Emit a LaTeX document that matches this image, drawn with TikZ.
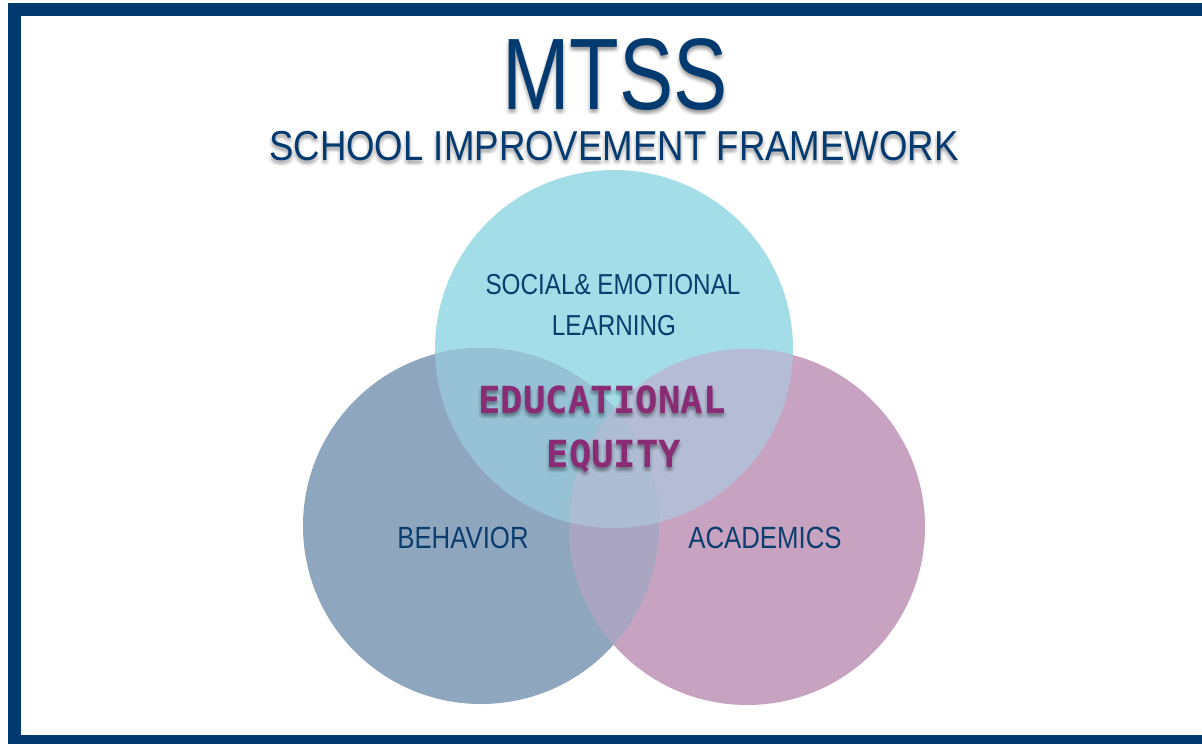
\documentclass[tikz,border=0pt]{standalone}
\usepackage{fontspec}
\newfontfamily\bigfont[FakeStretch=0.80]{Liberation Sans}
\newfontfamily\subfont[FakeStretch=0.875]{Liberation Sans}
\newfontfamily\labelfont[FakeStretch=0.84]{Liberation Sans}
\newfontfamily\monofont{DejaVu Sans Mono}
\definecolor{navy}{HTML}{033A70}
\definecolor{labelnavy}{HTML}{0B3D6E}
\definecolor{plum}{HTML}{8A2C75}
\definecolor{topfill}{HTML}{A3DDE8}
\definecolor{leftfill}{HTML}{8FA7BE}
\definecolor{rightfill}{HTML}{C7A3C1}
\definecolor{tlfill}{HTML}{97C2D6}
\definecolor{trfill}{HTML}{B5BDD6}
\definecolor{lrfill}{HTML}{AAA5C0}
\definecolor{allfill}{HTML}{ADBDD4}
\begin{document}
\begin{tikzpicture}[x=1bp,y=-1bp,
  shadowtext/.style={text=black,opacity=0.035,inner sep=0pt,anchor=base},
  maintext/.style={inner sep=0pt,anchor=base},
  bigtype/.style={font=\bigfont\fontsize{102}{110}\selectfont},
  subtype/.style={font=\subfont\fontsize{42}{48}\selectfont},
  monotype/.style={font=\monofont\bfseries\fontsize{37.5}{44}\selectfont},
  circlabel/.style={maintext,text=labelnavy,font=\labelfont\fontsize{29}{35}\selectfont},
  widelabel/.style={maintext,text=labelnavy,font=\labelfont\fontsize{30.8}{36}\selectfont}]
\useasboundingbox (0,0) rectangle (1202,744);
% frame
\fill[white] (0,0) rectangle (1202,744);
\fill[navy] (8,3) rectangle (1202,744);
\fill[white] (21,16) rectangle (1202,735);
% circles, each overlap region filled with its own blended tone
\def\topc{(614,349) circle [radius=179bp]}
\def\leftc{(481,526) circle [radius=178bp]}
\def\rightc{(747,527) circle [radius=178bp]}
\fill[topfill] \topc;
\fill[leftfill] \leftc;
\fill[rightfill] \rightc;
\begin{scope}\clip \topc; \fill[tlfill] \leftc; \end{scope}
\begin{scope}\clip \topc; \fill[trfill] \rightc; \end{scope}
\begin{scope}\clip \leftc; \fill[lrfill] \rightc; \end{scope}
\begin{scope}\clip \topc; \clip \leftc; \fill[allfill] \rightc; \end{scope}
% soft shadows under the headings
\foreach \dx/\dy in {0/2,0/4,1/3,-1/3,2/5,-2/5,0/6,2/2,-2/2,3/4,-3/4,0/1} {
  \node[shadowtext,bigtype] at (615+\dx,110+\dy) {MTSS};
  \node[shadowtext,subtype] at (614+\dx,160+\dy) {SCHOOL IMPROVEMENT FRAMEWORK};
  \node[shadowtext,monotype] at (602+\dx,413+\dy) {EDUCATIONAL};
  \node[shadowtext,monotype] at (614+\dx,467+\dy) {EQUITY};
}
% headings
\node[maintext,text=navy,bigtype] (mtss) at (615,110) {MTSS};
\node[maintext,text=navy,subtype] (sub) at (614,160) {SCHOOL IMPROVEMENT FRAMEWORK};
% circle labels
\node[circlabel] (sel1) at (613,294) {SOCIAL\& EMOTIONAL};
\node[circlabel] (sel2) at (614,335) {LEARNING};
\node[widelabel] (beh) at (463,548) {BEHAVIOR};
\node[widelabel] (acad) at (765,548) {ACADEMICS};
% centre label
\node[maintext,text=plum,monotype] (edu) at (602,413) {EDUCATIONAL};
\node[maintext,text=plum,monotype] (eq) at (614,467) {EQUITY};
\end{tikzpicture}
\end{document}
